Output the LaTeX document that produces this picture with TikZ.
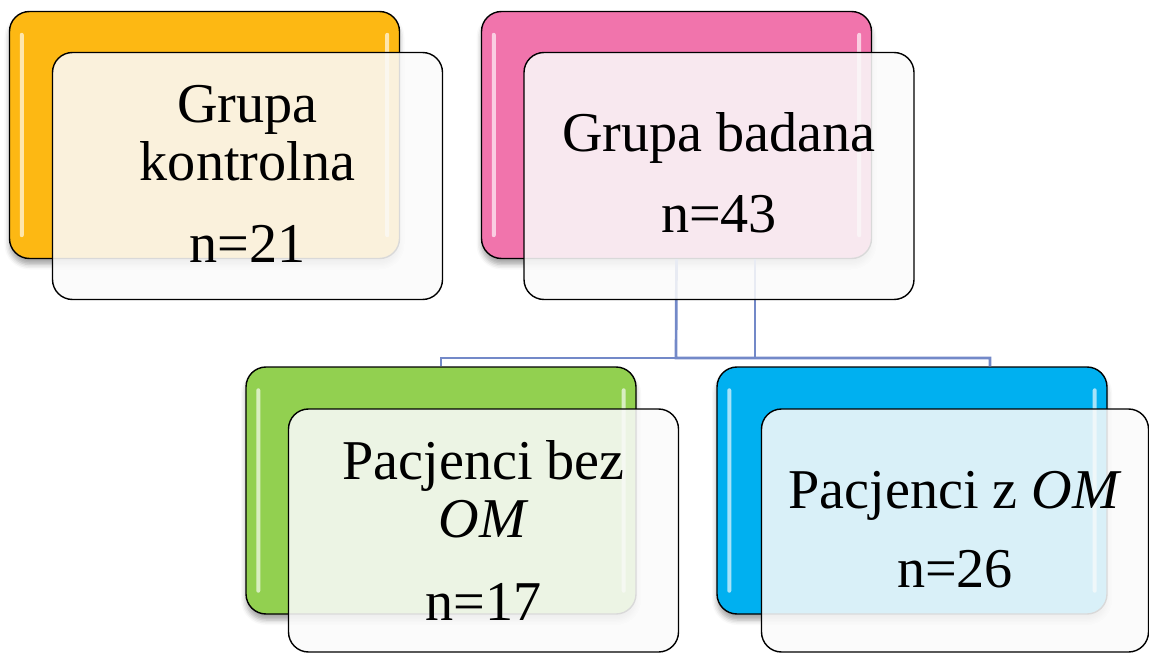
\documentclass[tikz,border=0pt]{standalone}
\usepackage{fontspec}
\setmainfont{Liberation Serif}
\usetikzlibrary{calc,shadows.blur}
\definecolor{cOrange}{HTML}{FDB813}
\definecolor{cPink}{HTML}{F174AC}
\definecolor{cGreen}{HTML}{92D050}
\definecolor{cBlue}{HTML}{00B0F0}
\definecolor{cLink}{HTML}{7389C8}
\definecolor{cFront}{HTML}{FAFAFA}
\tikzset{
  backbox/.style={draw=black, line width=1.4pt, rounded corners=20pt,
    minimum width=390pt, minimum height=247pt, inner sep=0pt,
    blur shadow={shadow xshift=0pt, shadow yshift=-6pt, shadow blur radius=5pt, shadow opacity=35}},
  frontbox/.style={draw=black, line width=1.4pt, rounded corners=20pt,
    fill=cFront, fill opacity=0.87, minimum width=390pt, inner sep=0pt},
  gloss/.style={fill=white, fill opacity=0.65, rounded corners=2pt},
  link/.style={draw=cLink, line width=2.7pt},
  txt/.style={align=center, inner sep=0pt, text=black,
    font=\fontsize{56.2pt}{58pt}\selectfont}
}
\begin{document}
\begin{tikzpicture}[x=1pt, y=-1pt]
\useasboundingbox (0,0) rectangle (1149,655);
% back boxes
\node[backbox, fill=cOrange] (b1) at (204.5,135) {};
\node[backbox, fill=cPink]   (b2) at (676.5,135) {};
\node[backbox, fill=cGreen]  (b3) at (441,490.5) {};
\node[backbox, fill=cBlue]   (b4) at (912,490.5) {};
% gloss stripes
\foreach \b in {b1,b2,b3,b4}{
  \fill[gloss] ($(\b.north west)+(11,22)$) rectangle ($(\b.south west)+(15,-22)$);
  \fill[gloss] ($(\b.north east)+(-15,22)$) rectangle ($(\b.south east)+(-11,-22)$);
}
% connectors
\coordinate (j1) at (676,358);
\coordinate (j2) at (755,358);
\draw[link] (b2.south) -- (j1) -- (j1 -| 990,0) -- (990,0 |- b4.north);
\draw[link] (b2.south -| j2) -- (j2) -- (j2 -| b3.north) -- (b3.north);
% front boxes
\node[frontbox, minimum height=247pt] (f1) at (247.5,176) {};
\node[frontbox, minimum height=247pt] (f2) at (719,176) {};
\node[frontbox, minimum height=243pt] (f3) at (483.5,530.5) {};
\node[frontbox, minimum height=243pt, minimum width=387pt] (f4) at (955,530.5) {};
% texts
\node[txt] (t1) at (247.5,173.5) {Grupa\\kontrolna\\[24pt]n=21};
\node[txt] (t2) at (719,173) {Grupa badana\\[23pt]n=43};
\node[txt] (t3) at (483.5,530) {Pacjenci bez\\\textit{OM}\\[25pt]n=17};
\node[txt] (t4) at (955,530) {Pacjenci z \textit{OM}\\[21pt]n=26};
\end{tikzpicture}
\end{document}
